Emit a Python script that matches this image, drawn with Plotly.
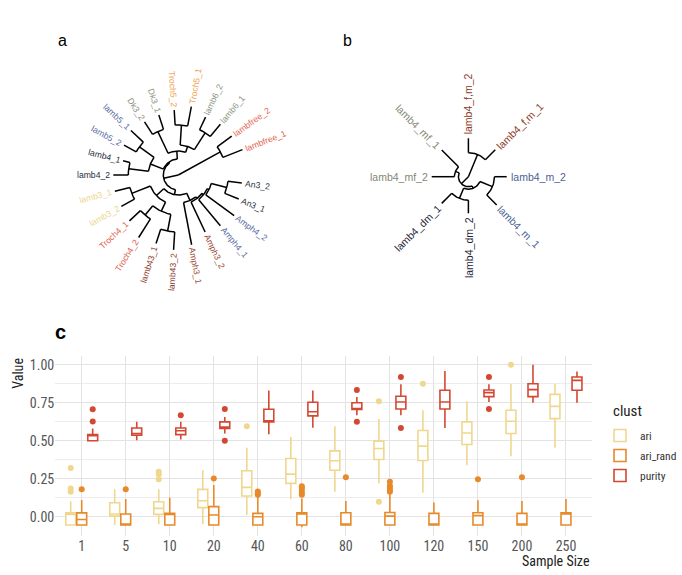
import math
import plotly.graph_objects as go

# ---------------- data ----------------
# Panel a tree (Newick, branch lengths)
TREE_A = ("((lambfree_1:21,lambfree_2:18):48,"
          "(((((lamb6_1:16,lamb6_2:14):20,(Troch5_1:19.6,Troch5_2:15):20):6,(Dk3_1:15,Dk3_2:15):24):8,"
          "((lamb5_1:17,lamb5_2:14):18,(lamb4_1:7,lamb4_2:15):20):14):1,"
          "(((lamb3_1:15.5,lamb3_2:15):20,((Troch4_1:15,Troch4_2:22):12,(lamb43_1:15,lamb43_2:18):17):10):10,"
          "(Amph3_1:43,(Amph3_2:33,(Amph4_1:34,(Amph4_2:35,(An3_1:15,An3_2:14):16):2):2):2):8):5):15);")
TREE_A_COLORS = {"lambfree": "#E2644F", "lamb6": "#8C9582", "Troch5": "#F0A048", "Dk3": "#8C9380",
                 "lamb5": "#5A6EA2", "lamb4": "#262D3B", "lamb3": "#EBD68F", "Troch4": "#E2604D",
                 "lamb43": "#8A3B2B", "Amph3": "#9A4830", "Amph4": "#596B9E", "An3": "#2C3340"}

# Panel b tree
TREE_B = ("(('lamb4_f,m_1':14,'lamb4_f,m_2':14.4):24,"
          "((lamb4_mf_1:23.7,lamb4_mf_2:22.7):4,"
          "((lamb4_dm_1:14.2,lamb4_dm_2:13.1):11,(lamb4_m_1:14,lamb4_m_2:12.3):13.5):2.5):10);")
TREE_B_COLORS = {"lamb4_f,m": "#8E3A27", "lamb4_mf": "#7F8973", "lamb4_dm": "#1F2738", "lamb4_m": "#4E5F95"}

# Panel c box statistics
SAMPLE_SIZES = ["1", "5", "10", "20", "40", "60", "80", "100", "120", "150", "200", "250"]
CLUSTS = ["ari", "ari_rand", "purity"]

ARI_Q1 = [-0.055, 0.004, 0.015, 0.06, 0.136, 0.219, 0.306, 0.376, 0.37, 0.475, 0.547, 0.645]
ARI_MED = [0.015, 0.018, 0.055, 0.105, 0.193, 0.28, 0.368, 0.449, 0.464, 0.551, 0.628, 0.726]
ARI_Q3 = [0.025, 0.092, 0.098, 0.18, 0.302, 0.383, 0.433, 0.497, 0.567, 0.624, 0.70, 0.805]
ARI_LO = [-0.055, -0.055, -0.05, -0.05, 0.011, 0.114, 0.164, 0.219, 0.158, 0.339, 0.398, 0.453]
ARI_HI = [0.10, 0.18, 0.18, 0.306, 0.453, 0.525, 0.595, 0.645, 0.70, 0.76, 0.875, 0.875]
ARI_OUT = [[0.32, 0.186, 0.164], [], [0.295, 0.28, 0.247], [], [0.595], [], [],
           [0.76, 0.098], [0.875], [], [1.0], []]

RAND_Q1 = [-0.055] * 12
RAND_MED = [-0.018, -0.055, 0.015, 0.011, 0.0, 0.018, -0.048, 0.004, -0.05, 0.007, -0.05, 0.018]
RAND_Q3 = [0.025, 0.018, 0.022, 0.066, 0.022, 0.026, 0.026, 0.028, 0.022, 0.026, 0.022, 0.026]
RAND_LO = [-0.055, -0.055, -0.055, -0.055, -0.055, -0.07, -0.055, -0.055, -0.055, -0.055, -0.055, -0.055]
RAND_HI = [0.11, 0.116, 0.125, 0.208, 0.13, 0.12, 0.103, 0.147, 0.094, 0.109, 0.103, 0.116]
RAND_OUT = [[0.18], [0.18], [], [0.252], [0.145, 0.155, 0.165], [0.145, 0.16, 0.175, 0.19, 0.2],
            [0.26], [0.164, 0.175, 0.19, 0.204, 0.23], [], [0.247], [0.26], []]

PUR_Q1 = [0.50, 0.536, 0.54, 0.58, 0.624, 0.663, 0.705, 0.709, 0.709, 0.79, 0.79, 0.832]
PUR_MED = [0.535, 0.547, 0.565, 0.59, 0.628, 0.69, 0.711, 0.755, 0.755, 0.816, 0.836, 0.897]
PUR_Q3 = [0.54, 0.584, 0.584, 0.624, 0.707, 0.753, 0.75, 0.792, 0.832, 0.834, 0.875, 0.919]
PUR_LO = [0.50, 0.503, 0.508, 0.547, 0.543, 0.586, 0.667, 0.667, 0.584, 0.755, 0.75, 0.75]
PUR_HI = [0.58, 0.624, 0.624, 0.656, 0.83, 0.83, 0.788, 0.871, 0.958, 0.871, 1.0, 0.956]
PUR_OUT = [[0.707, 0.626], [], [0.667], [0.709, 0.499], [], [], [0.834, 0.624],
           [0.919, 0.584], [], [0.919, 0.709], [], []]

CLUST_COLORS = {"ari": "#EFD78F", "ari_rand": "#E8892A", "purity": "#D34833"}

# ---------------- helpers ----------------
W, H = 682, 575
NARROW = "Liberation Sans Narrow, Arial Narrow, Roboto Condensed, Liberation Sans, Arial, sans-serif"
SANS = "Liberation Sans, Arial, Helvetica, sans-serif"


def parse_newick(s):
    pos = 0

    def node():
        nonlocal pos
        children = []
        if s[pos] == "(":
            pos += 1
            while True:
                children.append(node())
                if s[pos] == ",":
                    pos += 1
                    continue
                pos += 1  # ')'
                break
        if s[pos] == "'":
            end = s.index("'", pos + 1)
            name = s[pos + 1:end]
            pos = end + 1
        else:
            st = pos
            while s[pos] not in ":,();":
                pos += 1
            name = s[st:pos]
        length = 0.0
        if s[pos] == ":":
            pos += 1
            st = pos
            while s[pos] not in ",();":
                pos += 1
            length = float(s[st:pos])
        return {"name": name, "children": children, "length": length}

    return node()


def layout(tree, angle_of_tip):
    tips = []
    counter = [0]

    def rec(n, r0):
        n["r"] = r0 + n["length"]
        if not n["children"]:
            counter[0] += 1
            n["a"] = angle_of_tip(counter[0])
            tips.append(n)
        else:
            for c in n["children"]:
                rec(c, n["r"])
            n["a"] = sum(c["a"] for c in n["children"]) / len(n["children"])

    tree["length"] = 0.0
    rec(tree, 0.0)
    return tips


def tree_lines(tree):
    xs, ys = [], []

    def pol(r, a):
        t = math.radians(a)
        return r * math.cos(t), r * math.sin(t)

    def rec(n, parent_r):
        if parent_r is not None:
            x0, y0 = pol(parent_r, n["a"])
            x1, y1 = pol(n["r"], n["a"])
            xs.extend([x0, x1, None])
            ys.extend([y0, y1, None])
        if n["children"]:
            angs = [c["a"] for c in n["children"]]
            a0, a1 = min(angs), max(angs)
            if n["r"] > 0:
                k = max(2, int(abs(a1 - a0) / 2) + 2)
                for j in range(k + 1):
                    x, y = pol(n["r"], a0 + (a1 - a0) * j / k)
                    xs.append(x)
                    ys.append(y)
                xs.append(None)
                ys.append(None)
            for c in n["children"]:
                rec(c, n["r"])

    rec(tree, None)
    return xs, ys


EM = {"l": .222, "i": .222, "j": .222, "f": .278, "t": .278, ",": .278, ".": .278, "r": .333,
      "m": .833, "c": .5, "k": .5, "s": .5, "T": .611, "A": .667, "D": .722, "_": .556}


def text_w(s, size):
    return sum(EM.get(ch, .556) for ch in s) * size


def label_color(name, cmap):
    base = name.rsplit("_", 1)[0]
    return cmap.get(base, "#333333")


fig = go.Figure()
annotations = []


def add_tree(newick, angle_fn, cmap, xa, ya, fsize, gap):
    tree = parse_newick(newick)
    tips = layout(tree, angle_fn)
    xs, ys = tree_lines(tree)
    fig.add_trace(go.Scatter(x=xs, y=ys, mode="lines", line=dict(color="black", width=1.5),
                             xaxis=xa, yaxis=ya, showlegend=False, hoverinfo="skip"))
    for t in tips:
        a = t["a"]
        w = text_w(t["name"], fsize)
        rc = t["r"] + gap + w / 2
        th = math.radians(a)
        c = math.cos(th)
        rot = a if c >= 0 else a - 180
        annotations.append(dict(x=rc * math.cos(th), y=rc * math.sin(th), xref=xa, yref=ya,
                                text=t["name"], showarrow=False, textangle=-rot,
                                xanchor="center", yanchor="middle",
                                font=dict(family=SANS, size=fsize, color=label_color(t["name"], cmap))))


add_tree(TREE_A, lambda i: 14.4 * (i + 0.5), TREE_A_COLORS, "x2", "y2", 8.6, 3.0)
add_tree(TREE_B, lambda i: 45.0 * i, TREE_B_COLORS, "x3", "y3", 10.5, 4.0)

# ---------------- box plots ----------------
OFFS = {"ari": -0.25, "ari_rand": 0.0, "purity": 0.25}
STATS = {
    "ari": (ARI_Q1, ARI_MED, ARI_Q3, ARI_LO, ARI_HI, ARI_OUT),
    "ari_rand": (RAND_Q1, RAND_MED, RAND_Q3, RAND_LO, RAND_HI, RAND_OUT),
    "purity": (PUR_Q1, PUR_MED, PUR_Q3, PUR_LO, PUR_HI, PUR_OUT),
}
for cl in CLUSTS:
    q1, med, q3, lo, hi, out = STATS[cl]
    pos = [i + 1 + OFFS[cl] for i in range(len(SAMPLE_SIZES))]
    col = CLUST_COLORS[cl]
    fig.add_trace(go.Box(x=pos, q1=q1, median=med, q3=q3, lowerfence=lo, upperfence=hi,
                         name=cl, legendgroup=cl, width=0.225, whiskerwidth=0, boxpoints=False,
                         line=dict(color=col, width=1.6), fillcolor="rgba(255,255,255,1)",
                         xaxis="x", yaxis="y", hoverinfo="skip"))
    ox, oy = [], []
    for p, vals in zip(pos, out):
        for v in vals:
            ox.append(p)
            oy.append(v)
    fig.add_trace(go.Scatter(x=ox, y=oy, mode="markers", marker=dict(color=col, size=6),
                             legendgroup=cl, showlegend=False, xaxis="x", yaxis="y",
                             hoverinfo="skip"))


def px_x(p):
    return p / W


def px_y(p):
    return 1 - p / H


# tree axes (1 data unit = 1 px)
A_CX, A_CY = 178.3, 175.0
B_CX, B_CY = 468.4, 176.7
TOP_DOM = 0.43
dom_h = H * (1 - TOP_DOM)
hidden = dict(visible=False, showgrid=False, zeroline=False, fixedrange=True)

# box panel axes
PLOT_L, PLOT_R = 55.3, 592.4
Y_LO, Y_HI = -0.13, 1.055
V0_PX, PX_PER_UNIT = 516.7, 152.0
plot_bottom = V0_PX - PX_PER_UNIT * Y_LO
plot_top = V0_PX - PX_PER_UNIT * Y_HI

fig.update_layout(
    width=W, height=H, margin=dict(l=0, r=0, t=0, b=0, autoexpand=False),
    paper_bgcolor="white", plot_bgcolor="white",
    boxmode="overlay",
    xaxis=dict(domain=[px_x(PLOT_L), px_x(PLOT_R)], range=[0.4, len(SAMPLE_SIZES) + 0.6],
               tickvals=list(range(1, len(SAMPLE_SIZES) + 1)), ticktext=SAMPLE_SIZES,
               showgrid=True, gridcolor="#E3E3E3", gridwidth=1, zeroline=False, showline=False,
               ticks="", tickfont=dict(family=NARROW, size=14, color="#555555"), fixedrange=True),
    yaxis=dict(domain=[px_y(plot_bottom), px_y(plot_top)], range=[Y_LO, Y_HI],
               tickvals=[0, 0.25, 0.5, 0.75, 1.0], ticktext=["0.00", "0.25", "0.50", "0.75", "1.00"],
               showgrid=True, gridcolor="#E3E3E3", gridwidth=1, zeroline=False, showline=False,
               ticks="", tickfont=dict(family=NARROW, size=14, color="#555555"),
               minor=dict(tickvals=[-0.125, 0.125, 0.375, 0.625, 0.875], showgrid=True,
                          gridcolor="#EDEDED", gridwidth=1),
               fixedrange=True),
    xaxis2=dict(domain=[0, 0.5], range=[-A_CX, W * 0.5 - A_CX], **hidden),
    yaxis2=dict(domain=[TOP_DOM, 1], range=[-(dom_h - A_CY), A_CY], **hidden),
    xaxis3=dict(domain=[0.5, 1], range=[W * 0.5 - B_CX, W - B_CX], **hidden),
    yaxis3=dict(domain=[TOP_DOM, 1], range=[-(dom_h - B_CY), B_CY], **hidden),
    legend=dict(x=px_x(600), y=px_y(421), xanchor="left", yanchor="top",
                tracegroupgap=1, traceorder="grouped",
                font=dict(family=NARROW, size=11.5, color="#333333"), bgcolor="rgba(0,0,0,0)"),
)

annotations += [
    dict(x=px_x(62), y=px_y(40), xref="paper", yref="paper", text="a", showarrow=False,
         xanchor="center", yanchor="middle", font=dict(family=SANS, size=16, color="black")),
    dict(x=px_x(347), y=px_y(40), xref="paper", yref="paper", text="b", showarrow=False,
         xanchor="center", yanchor="middle", font=dict(family=SANS, size=16, color="black")),
    dict(x=px_x(60), y=px_y(332), xref="paper", yref="paper", text="<b>c</b>", showarrow=False,
         xanchor="center", yanchor="middle", font=dict(family=SANS, size=20, color="black")),
    dict(x=px_x(18), y=px_y(plot_top), xref="paper", yref="paper", text="Value", showarrow=False,
         textangle=-90, xanchor="center", yanchor="top",
         font=dict(family=NARROW, size=14, color="#222222")),
    dict(x=px_x(PLOT_R), y=px_y(561), xref="paper", yref="paper", text="Sample Size",
         showarrow=False, xanchor="right", yanchor="middle",
         font=dict(family=NARROW, size=14, color="#222222")),
    dict(x=px_x(611), y=px_y(411), xref="paper", yref="paper", text="clust",
         showarrow=False, xanchor="left", yanchor="middle",
         font=dict(family=NARROW, size=15, color="#222222")),
]
fig.update_layout(annotations=annotations)

fig.write_html("out.html", config={"displayModeBar": False},
               post_script="document.body.style.margin='0';")
